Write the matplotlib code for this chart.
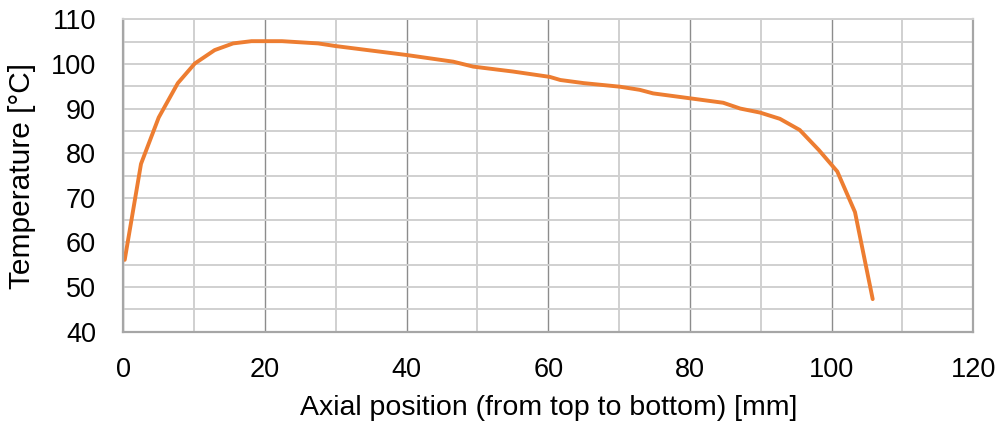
import matplotlib
matplotlib.use("Agg")
import matplotlib.pyplot as plt
from matplotlib.ticker import MultipleLocator

plt.rcParams["font.family"] = ["Liberation Sans", "DejaVu Sans"]

# axial temperature profile
position_mm = [0.2, 2.5, 5.0, 7.7, 10.1, 12.9, 15.5, 18.1, 22.4, 27.5, 30.0, 35.0,
               40.0, 46.6, 49.4, 55.0, 60.2, 61.7, 65.0, 70.1, 72.9, 74.8, 80.0,
               84.7, 87.1, 89.9, 92.7, 95.5, 98.2, 100.8, 103.3, 105.8]
temperature_c = [56.1, 77.6, 88.0, 95.7, 100.1, 103.1, 104.6, 105.1, 105.1, 104.6,
                 104.0, 103.0, 102.0, 100.5, 99.4, 98.3, 97.1, 96.4, 95.7, 94.9,
                 94.2, 93.4, 92.3, 91.3, 90.0, 89.1, 87.7, 85.2, 80.7, 75.9, 66.8,
                 47.3]

x_ticks = [0, 20, 40, 60, 80, 100, 120]
y_ticks = [40, 50, 60, 70, 80, 90, 100, 110]

fig = plt.figure(figsize=(10.04, 4.30), dpi=100)
ax = fig.add_axes([0.1228, 0.2286, 0.8466, 0.7265])

ax.set_xlim(0, 120)
ax.set_ylim(40, 110)
ax.set_xticks(x_ticks)
ax.set_yticks(y_ticks)
ax.xaxis.set_minor_locator(MultipleLocator(10))
ax.yaxis.set_minor_locator(MultipleLocator(5))

# grid: darker major verticals, light everything else
ax.grid(which="major", axis="x", color="#8c8c8c", linewidth=1.0)
ax.grid(which="minor", axis="x", color="#c8c8c8", linewidth=1.2)
ax.grid(which="both", axis="y", color="#d0d0d0", linewidth=1.4)
ax.set_axisbelow(True)

ax.plot(position_mm, temperature_c, color="#ED7D31", linewidth=2.8,
        solid_joinstyle="round", solid_capstyle="round", clip_on=False)

for side in ["left", "bottom", "right"]:
    ax.spines[side].set_color("#a6a6a6")
    ax.spines[side].set_linewidth(1.6)
ax.spines["top"].set_color("#d0d0d0")
ax.spines["top"].set_linewidth(1.4)

ax.tick_params(which="both", length=0, labelsize=19.5, colors="black")
ax.tick_params(axis="x", pad=18)
ax.tick_params(axis="y", pad=19.5)

ax.set_xlabel("Axial position (from top to bottom) [mm]", fontsize=20.5)
ax.set_ylabel("Temperature [°C]", fontsize=21.5)
ax.xaxis.set_label_coords(0.5, -0.243)
ax.xaxis.label.set_va("center")
ax.yaxis.set_label_coords(-0.119, 0.5)
ax.yaxis.label.set_va("center")

fig.savefig("out.png", dpi=100)
